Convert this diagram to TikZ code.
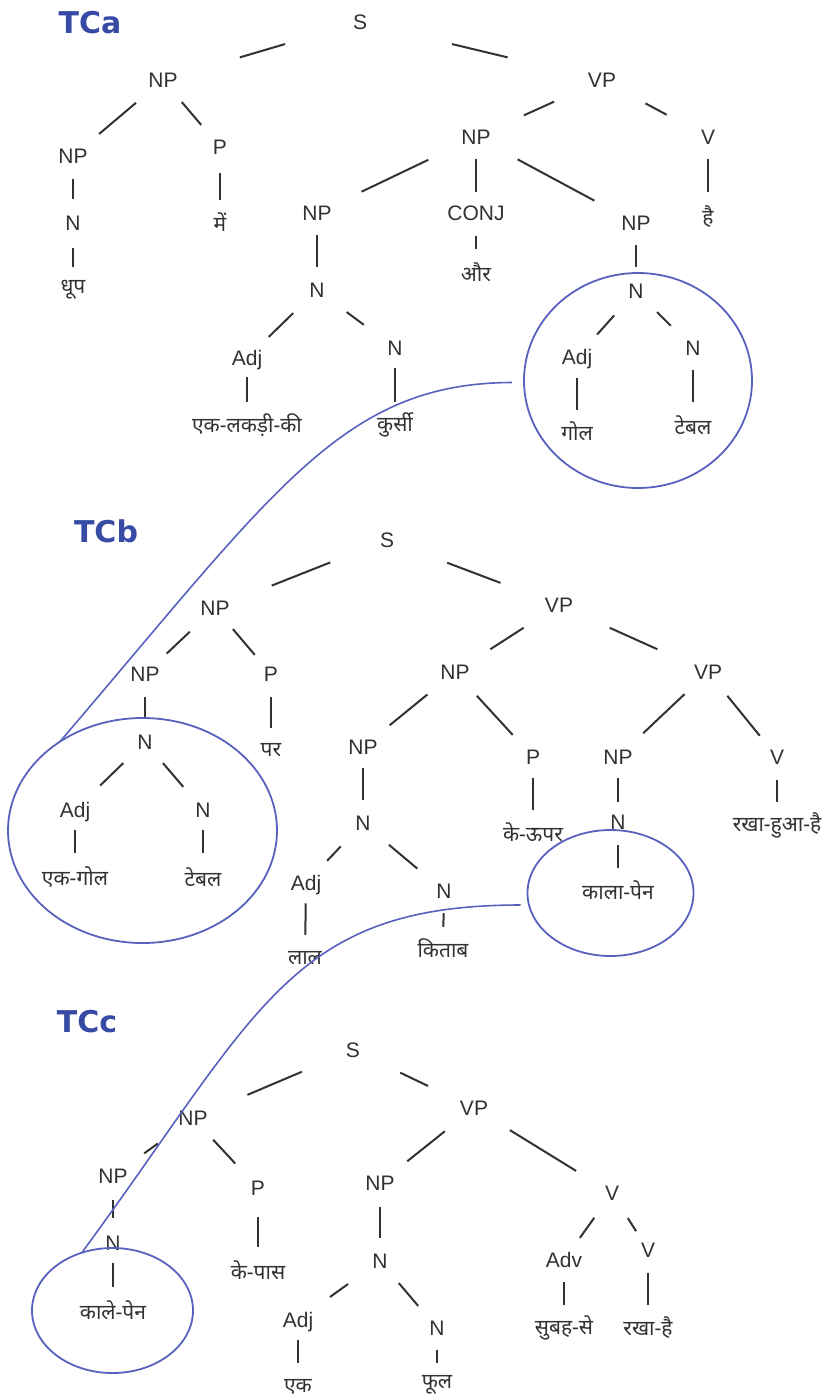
\documentclass[tikz,border=0pt]{standalone}
\usepackage{fontspec}
\setmainfont{Liberation Sans}
\newfontfamily\hindi[Script=Devanagari]{Noto Sans}
\newfontfamily\titlefont{DejaVu Sans}
\usetikzlibrary{calc,shapes.geometric}
\definecolor{ink}{RGB}{50,50,50}
\definecolor{ringblue}{RGB}{88,98,190}
\definecolor{titleblue}{RGB}{55,75,165}
\tikzset{
  lab/.style={font=\fontsize{21}{24}\selectfont, text=ink, inner sep=0pt, text height=15pt, text depth=0pt},
  hin/.style={font=\hindi\fontsize{21}{24}\selectfont, text=ink, inner sep=0pt},
  ttl/.style={font=\titlefont\bfseries\fontsize{30}{34}\selectfont, text=titleblue, inner sep=0pt, text height=22pt, text depth=0pt},
  edge/.style={draw=ink, line width=2pt},
  ring/.style={ellipse, draw=ringblue, line width=1.8pt, inner sep=0pt, outer sep=0pt},
  link/.style={draw=ringblue, line width=1.6pt},
}
% a tree edge: the middle part of the segment between two labels
\newcommand\edge[4]{\draw[edge] ($(#1)!#3!(#2)$) -- ($(#1)!#4!(#2)$);}
\begin{document}
\begin{tikzpicture}[x=1pt,y=-1pt]
\path[fill=white] (0,0) rectangle (828,1398);

% ---------- TCa ----------
\node[ttl] (ta) at (90,22) {TCa};
\node[lab] (a-S) at (360,22) {S};
\node[lab] (a-NP) at (163,80) {NP};
\node[lab] (a-VP) at (602,80) {VP};
\node[lab] (a-NPl) at (73,156) {NP};
\node[lab] (a-P) at (220,147) {P};
\node[lab] (a-Nl) at (73,223) {N};
\node[hin] (a-w1) at (73,290) {धूप};
\node[hin] (a-w2) at (220,222) {में};
\node[lab] (a-NPm) at (476,137) {NP};
\node[lab] (a-V) at (708,137) {V};
\node[lab] (a-NPa) at (317,213) {NP};
\node[lab] (a-CONJ) at (476,213) {CONJ};
\node[lab] (a-NPb) at (636,223) {NP};
\node[hin] (a-w3) at (708,217) {है};
\node[lab] (a-Na) at (317,290) {N};
\node[hin] (a-w4) at (476,272) {और};
\node[lab] (a-Nb) at (636,291) {N};
\node[lab] (a-Adja) at (247,358) {Adj};
\node[lab] (a-Nc) at (395,348) {N};
\node[lab] (a-Adjb) at (577,357) {Adj};
\node[lab] (a-Nd) at (693,348) {N};
\node[hin] (a-w5) at (247,425) {एक-लकड़ी-की};
\node[hin] (a-w6) at (395,425) {कुर्सी};
\node[hin] (a-w7) at (577,431) {गोल};
\node[hin] (a-w8) at (693,425) {टेबल};

\edge{a-S}{a-NP}{0.38}{0.61}
\edge{a-S}{a-VP}{0.38}{0.61}
\edge{a-NP}{a-NPl}{0.30}{0.71}
\edge{a-NP}{a-P}{0.33}{0.67}
\edge{a-NPl}{a-Nl}{0.34}{0.64}
\edge{a-Nl}{a-w1}{0.38}{0.65}
\edge{a-P}{a-w2}{0.34}{0.71}
\edge{a-VP}{a-NPm}{0.38}{0.62}
\edge{a-VP}{a-V}{0.41}{0.61}
\edge{a-NPm}{a-NPa}{0.30}{0.72}
\edge{a-NPm}{a-CONJ}{0.29}{0.72}
\edge{a-NPm}{a-NPb}{0.26}{0.74}
\edge{a-V}{a-w3}{0.28}{0.69}
\edge{a-NPa}{a-Na}{0.29}{0.70}
\edge{a-CONJ}{a-w4}{0.39}{0.61}
\edge{a-NPb}{a-Nb}{0.32}{0.65}
\edge{a-Na}{a-Adja}{0.34}{0.69}
\edge{a-Na}{a-Nc}{0.38}{0.60}
\edge{a-Nb}{a-Adjb}{0.37}{0.66}
\edge{a-Nb}{a-Nd}{0.37}{0.61}
\edge{a-Adja}{a-w5}{0.28}{0.66}
\edge{a-Nc}{a-w6}{0.26}{0.70}
\edge{a-Adjb}{a-w7}{0.28}{0.71}
\edge{a-Nd}{a-w8}{0.29}{0.70}

% ---------- TCb ----------
\node[ttl] (tb) at (106,531) {TCb};
\node[lab] (b-S) at (387,540) {S};
\node[lab] (b-NP) at (215,608) {NP};
\node[lab] (b-VP) at (559,605) {VP};
\node[lab] (b-NPl) at (145,674) {NP};
\node[lab] (b-P) at (271,674) {P};
\node[lab] (b-Nl) at (145,742) {N};
\node[hin] (b-w1) at (271,750) {पर};
\node[lab] (b-Adja) at (75,810) {Adj};
\node[lab] (b-Na) at (203,810) {N};
\node[hin] (b-w2) at (75,877) {एक-गोल};
\node[hin] (b-w3) at (203,877) {टेबल};
\node[lab] (b-NPm) at (455,672) {NP};
\node[lab] (b-VPr) at (708,672) {VP};
\node[lab] (b-NPa) at (363,747) {NP};
\node[lab] (b-Pm) at (533,757) {P};
\node[lab] (b-NPb) at (618,757) {NP};
\node[lab] (b-V) at (777,757) {V};
\node[lab] (b-Nb) at (363,823) {N};
\node[hin] (b-w4) at (533,832) {के-ऊपर};
\node[lab] (b-Nc) at (618,822) {N};
\node[hin] (b-w5) at (777,825) {रखा-हुआ-है};
\node[hin] (b-w6) at (618,890) {काला-पेन};
\node[lab] (b-Adjb) at (306,883) {Adj};
\node[lab] (b-Nd) at (444,891) {N};
\node[hin] (b-w7) at (305,958) {लाल};
\node[hin] (b-w8) at (443,948) {किताब};

\edge{b-S}{b-NP}{0.33}{0.67}
\edge{b-S}{b-VP}{0.35}{0.66}
\edge{b-NP}{b-NPl}{0.36}{0.69}
\edge{b-NP}{b-P}{0.32}{0.71}
\edge{b-NPl}{b-Nl}{0.34}{0.65}
\edge{b-P}{b-w1}{0.30}{0.71}
\edge{b-Nl}{b-Adja}{0.31}{0.64}
\edge{b-Nl}{b-Na}{0.31}{0.66}
\edge{b-Adja}{b-w2}{0.30}{0.64}
\edge{b-Na}{b-w3}{0.30}{0.64}
\edge{b-VP}{b-NPm}{0.34}{0.66}
\edge{b-VP}{b-VPr}{0.34}{0.66}
\edge{b-NPm}{b-NPa}{0.30}{0.71}
\edge{b-NPm}{b-Pm}{0.28}{0.74}
\edge{b-VPr}{b-NPb}{0.26}{0.72}
\edge{b-VPr}{b-V}{0.28}{0.75}
\edge{b-NPa}{b-Nb}{0.28}{0.70}
\edge{b-Pm}{b-w4}{0.28}{0.71}
\edge{b-NPb}{b-Nc}{0.32}{0.69}
\edge{b-V}{b-w5}{0.34}{0.66}
\edge{b-Nc}{b-w6}{0.34}{0.68}
\edge{b-Nb}{b-Adjb}{0.39}{0.63}
\edge{b-Nb}{b-Nd}{0.32}{0.67}
\edge{b-Adjb}{b-w7}{0.27}{0.69}
\edge{b-Nd}{b-w8}{0.39}{0.63}

% ---------- TCc ----------
\node[ttl] (tc) at (87,1021) {TCc};
\node[lab] (c-S) at (353,1050) {S};
\node[lab] (c-NP) at (193,1118) {NP};
\node[lab] (c-VP) at (474,1108) {VP};
\node[lab] (c-NPl) at (113,1176) {NP};
\node[lab] (c-P) at (258,1188) {P};
\node[lab] (c-Nl) at (113,1243) {N};
\node[hin] (c-w1) at (113,1310) {काले-पेन};
\node[hin] (c-w2) at (258,1270) {के-पास};
\node[lab] (c-NPm) at (380,1183) {NP};
\node[lab] (c-V) at (612,1193) {V};
\node[lab] (c-Nm) at (380,1261) {N};
\node[lab] (c-Adv) at (564,1260) {Adv};
\node[lab] (c-Vr) at (648,1250) {V};
\node[hin] (c-w3) at (564,1328) {सुबह-से};
\node[hin] (c-w4) at (648,1328) {रखा-है};
\node[lab] (c-Adj) at (298,1320) {Adj};
\node[lab] (c-Nn) at (437,1328) {N};
\node[hin] (c-w5) at (298,1387) {एक};
\node[hin] (c-w6) at (437,1385) {फूल};

\edge{c-S}{c-NP}{0.32}{0.66}
\edge{c-S}{c-VP}{0.39}{0.62}
\edge{c-NP}{c-NPl}{0.44}{0.61}
\edge{c-NP}{c-P}{0.31}{0.65}
\edge{c-NPl}{c-Nl}{0.36}{0.63}
\edge{c-Nl}{c-w1}{0.30}{0.66}
\edge{c-P}{c-w2}{0.35}{0.72}
\edge{c-VP}{c-NPm}{0.31}{0.71}
\edge{c-VP}{c-V}{0.26}{0.74}
\edge{c-NPm}{c-Nm}{0.31}{0.71}
\edge{c-V}{c-Adv}{0.37}{0.67}
\edge{c-V}{c-Vr}{0.44}{0.67}
\edge{c-Adv}{c-w3}{0.32}{0.66}
\edge{c-Vr}{c-w4}{0.29}{0.71}
\edge{c-Nm}{c-Adj}{0.39}{0.61}
\edge{c-Nm}{c-Nn}{0.33}{0.67}
\edge{c-Adj}{c-w5}{0.30}{0.64}
\edge{c-Nn}{c-w6}{0.39}{0.61}

% ---------- shared subtrees ----------
\node[ring, minimum width=228pt, minimum height=215pt] (ringA) at (638,380.5) {};
\node[ring, minimum width=269pt, minimum height=225pt] (ringB) at (142.5,830.5) {};
\node[ring, minimum width=166pt, minimum height=126pt] (ringC) at (610.5,893) {};
\node[ring, minimum width=161pt, minimum height=125pt] (ringD) at (112.5,1310.5) {};

\draw[link] ($(ringA.west)+(-12,2)$) .. controls (342,383) and (274.5,491) .. (ringB.133);
\draw[link] ($(ringC.west)+(-7,12)$) .. controls (290,905) and (260,1010) .. (ringD.118);
\end{tikzpicture}
\end{document}
